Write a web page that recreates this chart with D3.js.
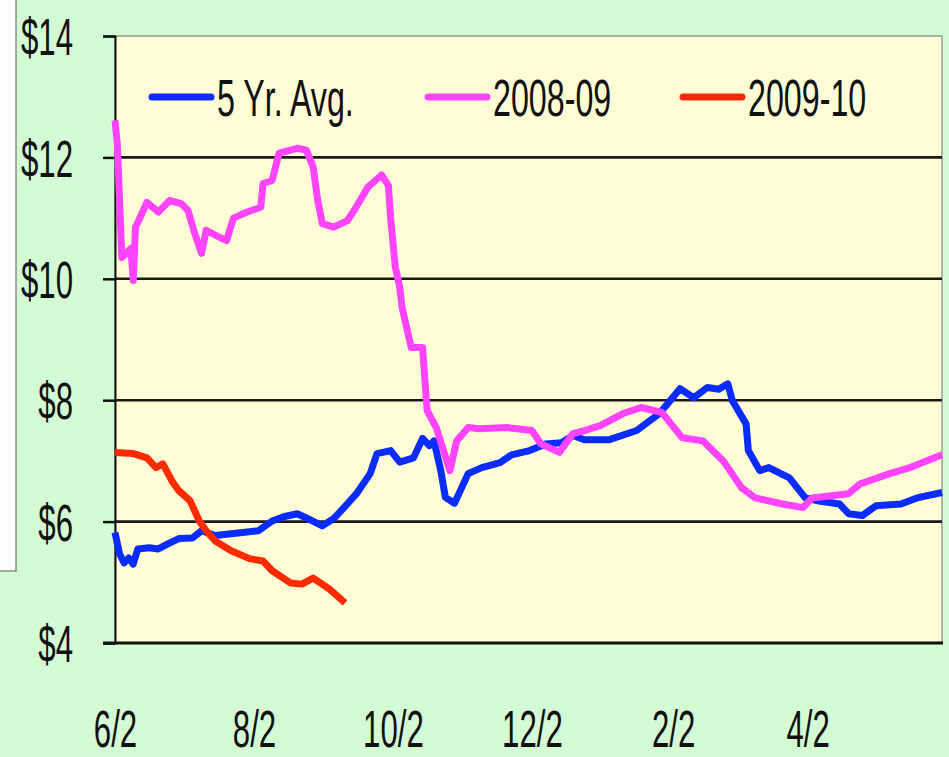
<!DOCTYPE html>
<html>
<head>
<meta charset="utf-8">
<script src="https://cdn.jsdelivr.net/npm/d3@7"></script>
<style>
  html, body { margin:0; padding:0; background:#d4fcd4; }
  svg { display:block; }
  text { font-family: "Liberation Sans", Arial, sans-serif; fill:#111; }
</style>
</head>
<body>
<svg id="chart" width="949" height="757"></svg>
<script>
// data (season runs 6/2 -> end of May)
const seriesNames = ["5 Yr. Avg.", "2008-09", "2009-10"];
const seriesColors = ["#0a2cff", "#ff44ff", "#ff2a00"];
const yTicks = [4, 6, 8, 10, 12, 14];
const xTickLabels = ["6/2", "8/2", "10/2", "12/2", "2/2", "4/2"];

const avg5 = [
  ["6/2",5.82],["6/4",5.47],["6/6",5.32],["6/8",5.4],["6/10",5.3],["6/12",5.55],["6/17",5.57],
  ["6/21",5.55],["6/25",5.63],["6/30",5.72],["7/6",5.73],["7/10",5.85],["7/16",5.77],["7/23",5.8],
  ["7/28",5.82],["8/4",5.85],["8/10",6.01],["8/15",6.08],["8/21",6.13],["8/25",6.06],["9/1",5.93],
  ["9/6",6.05],["9/10",6.21],["9/16",6.46],["9/22",6.79],["9/25",7.12],["10/1",7.17],["10/5",6.98],
  ["10/11",7.05],["10/15",7.37],["10/18",7.25],["10/20",7.33],["10/23",6.84],["10/25",6.4],["10/29",6.3],
  ["11/4",6.79],["11/10",6.89],["11/18",6.97],["11/23",7.1],["12/1",7.17],["12/8",7.28],["12/15",7.3],
  ["12/20",7.42],["12/25",7.35],["1/5",7.35],["1/17",7.5],["1/27",7.78],["2/5",8.19],["2/11",8.04],
  ["2/17",8.21],["2/22",8.18],["2/26",8.27],["2/28",7.99],["3/6",7.61],["3/7",7.17],["3/12",6.84],
  ["3/16",6.89],["3/25",6.72],["4/1",6.39],["4/7",6.34],["4/16",6.29],["4/20",6.13],["4/26",6.1],
  ["5/2",6.26],["5/13",6.29],["5/20",6.39],["5/31",6.48]
];

const s0809 = [
  ["6/2",12.61],["6/3",12.23],["6/4",11.3],["6/5",10.35],["6/7",10.42],["6/9",10.5],["6/10",9.97],
  ["6/11",10.85],["6/13",11.01],["6/16",11.26],["6/21",11.1],["6/26",11.29],["7/1",11.24],["7/4",11.13],
  ["7/7",10.75],["7/10",10.42],["7/12",10.8],["7/18",10.68],["7/21",10.63],["7/24",11.0],["7/30",11.1],
  ["8/5",11.18],["8/6",11.57],["8/10",11.62],["8/13",12.07],["8/21",12.15],["8/25",12.12],["8/28",11.84],
  ["8/30",11.29],["9/1",10.91],["9/6",10.85],["9/12",10.96],["9/15",11.13],["9/21",11.51],["9/27",11.71],
  ["9/30",11.54],["10/1",11.0],["10/3",10.2],["10/5",9.86],["10/6",9.53],["10/10",8.87],["10/15",8.87],
  ["10/17",7.83],["10/21",7.55],["10/27",6.84],["10/30",7.33],["11/4",7.55],["11/9",7.53],["11/21",7.55],
  ["12/2",7.5],["12/6",7.28],["12/14",7.14],["12/20",7.45],["12/25",7.5],["1/1",7.58],["1/11",7.78],
  ["1/19",7.88],["1/28",7.8],["2/6",7.38],["2/15",7.33],["2/24",7.0],["3/4",6.56],["3/10",6.39],
  ["3/22",6.29],["3/31",6.23],["4/4",6.39],["4/20",6.46],["4/25",6.62],["5/8",6.79],["5/17",6.89],
  ["5/31",7.1]
];

const s0910 = [
  ["6/2",7.14],["6/10",7.12],["6/16",7.05],["6/20",6.89],["6/23",6.95],["6/27",6.67],["6/30",6.51],
  ["7/5",6.34],["7/9",6.01],["7/12",5.85],["7/16",5.68],["7/23",5.52],["7/31",5.39],["8/6",5.35],
  ["8/10",5.19],["8/18",4.99],["8/23",4.97],["8/28",5.07],["9/4",4.89],["9/11",4.66]
];

const allSeries = [avg5, s0809, s0910];

// "M/D" -> date in the season (June..Dec = first year)
function toDate(s) {
  const [m, d] = s.split("/").map(Number);
  return new Date(m >= 6 ? 2008 : 2009, m - 1, d);
}

const svg = d3.select("#chart");
const plotLeft = 115, plotRight = 942, plotTop = 36, plotBottom = 643;
const sx = 0.6; // text is drawn narrow in the original

const x = d3.scaleTime().domain([toDate("6/2"), toDate("5/31")]).range([plotLeft, plotRight]);
const y = d3.scaleLinear().domain([4, 14]).range([plotBottom, plotTop]);

// white panel on the far left
svg.append("rect").attr("x", -2).attr("y", -2).attr("width", 18).attr("height", 573)
  .attr("fill", "#fdfdfd").attr("stroke", "#8a8a8a").attr("stroke-width", 1.5);

// plot area
svg.append("rect").attr("x", plotLeft).attr("y", plotTop)
  .attr("width", plotRight - plotLeft).attr("height", plotBottom - plotTop)
  .attr("fill", "#fffdd6").attr("stroke", "#9a9a9a").attr("stroke-width", 1.5);

// grid lines
svg.append("g").selectAll("line").data(yTicks.filter(d => d > 4 && d < 14)).join("line")
  .attr("x1", plotLeft).attr("x2", plotRight)
  .attr("y1", d => y(d)).attr("y2", d => y(d))
  .attr("stroke", "#1a1a1a").attr("stroke-width", 2.6);

// y axis
const yAxis = svg.append("g").attr("transform", `translate(${plotLeft},0)`)
  .call(d3.axisLeft(y).tickValues(yTicks).tickSize(12).tickFormat(d => "$" + d));
yAxis.select(".domain").attr("stroke", "#111").attr("stroke-width", 2);
yAxis.selectAll(".tick line").attr("stroke", "#111").attr("stroke-width", 2.5);
yAxis.selectAll(".tick text")
  .attr("x", -42 / sx).attr("dy", "0.36em")
  .attr("transform", `scale(${sx},1)`)
  .style("font-size", "52px").attr("fill", "#111");

// x axis
const xAxis = svg.append("g").attr("transform", `translate(0,${plotBottom})`)
  .call(d3.axisBottom(x).tickValues(xTickLabels.map(toDate)).tickSize(0).tickPadding(67)
    .tickFormat((d, i) => xTickLabels[i]));
xAxis.select(".domain").remove();
xAxis.selectAll(".tick text")
  .attr("transform", `scale(${sx},1)`)
  .style("font-size", "52px").attr("fill", "#111");

svg.append("line").attr("x1", plotLeft - 12).attr("x2", plotRight + 1)
  .attr("y1", plotBottom).attr("y2", plotBottom)
  .attr("stroke", "#111").attr("stroke-width", 3);

// lines
const line = d3.line().x(d => x(toDate(d[0]))).y(d => y(d[1]));
svg.append("g").selectAll("path").data(allSeries).join("path")
  .attr("d", line)
  .attr("fill", "none")
  .attr("stroke", (d, i) => seriesColors[i])
  .attr("stroke-width", 7)
  .attr("stroke-linejoin", "round");

// legend
const legendX = [152, 428, 683];
const lg = svg.append("g").selectAll("g").data(seriesNames).join("g")
  .attr("transform", (d, i) => `translate(${legendX[i]},97)`);
lg.append("line").attr("x1", 0).attr("x2", 59).attr("y1", 0).attr("y2", 0)
  .attr("stroke", (d, i) => seriesColors[i]).attr("stroke-width", 7).attr("stroke-linecap", "round");
lg.append("text")
  .attr("transform", `translate(65,19) scale(0.62,1)`)
  .style("font-size", "52px")
  .text(d => d);
</script>
</body>
</html>
